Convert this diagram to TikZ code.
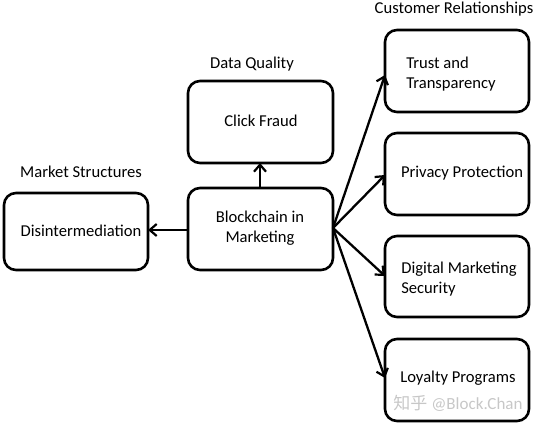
\documentclass[tikz,border=0pt]{standalone}
\usepackage{fontspec}
\setmainfont{Carlito}
\newfontfamily\cjk{Noto Sans CJK SC}
\usetikzlibrary{arrows.meta}
\begin{document}
\begin{tikzpicture}[x=1pt,y=-1pt,
  box/.style={draw,line width=2.6pt,rounded corners=12pt,inner sep=0pt},
  txt/.style={font=\fontsize{16.6}{20}\selectfont,align=left,inner sep=0pt},
  lbl/.style={font=\fontsize{16.6}{20}\selectfont,inner sep=0pt},
  conn/.style={line width=2.3pt,-{Straight Barb[length=7pt,width=12pt,line width=2.2pt]}}]
\useasboundingbox (0,0) rectangle (536,425);
% boxes
\draw[box] (4,193) rectangle (148,270);
\draw[box] (188,188) rectangle (333,270);
\draw[box] (188,81) rectangle (333,163);
\draw[box] (385,30) rectangle (529,112);
\draw[box] (385,133) rectangle (529,215);
\draw[box] (385,236) rectangle (529,317);
\draw[box] (385,339) rectangle (529,421);
% anchor nodes
\coordinate (dis) at (148,230);
\coordinate (bcL) at (188,230);
\coordinate (bcT) at (260,188);
\coordinate (bcR) at (333,228);
\coordinate (cfB) at (260,163);
\coordinate (t1) at (385,75);
\coordinate (t2) at (385,175);
\coordinate (t3) at (385,276);
\coordinate (t4) at (385,378);
% texts
\node[txt] (disT) at (81,231) {Disintermediation};
\node[txt,align=center] (bcT1) at (260,228) {Blockchain in\\Marketing};
\node[txt] (cfT) at (261,121) {Click Fraud};
\node[txt] (trT) at (451,74) {Trust and\\Transparency};
\node[txt] (ppT) at (462,173) {Privacy Protection};
\node[txt] (dmT) at (459,279) {Digital Marketing\\Security};
\node[txt] (lpT) at (458,378) {Loyalty Programs};
% labels
\node[lbl] (ms) at (81,172) {Market Structures};
\node[lbl] (dq) at (252,64) {Data Quality};
\node[lbl] (cr) at (454,9) {Customer Relationships};
\node[inner sep=0pt,text=black!22,font=\fontsize{17}{20}\selectfont] (wm) at (458,403) {{\cjk 知乎} @Block.Chan};
% connectors
\draw[conn] (bcL) -- (dis);
\draw[conn] (bcT) -- (cfB);
\draw[conn] (bcR) -- (t1);
\draw[conn] (bcR) -- (t2);
\draw[conn] (bcR) -- (t3);
\draw[conn] (bcR) -- (t4);
\end{tikzpicture}
\end{document}
